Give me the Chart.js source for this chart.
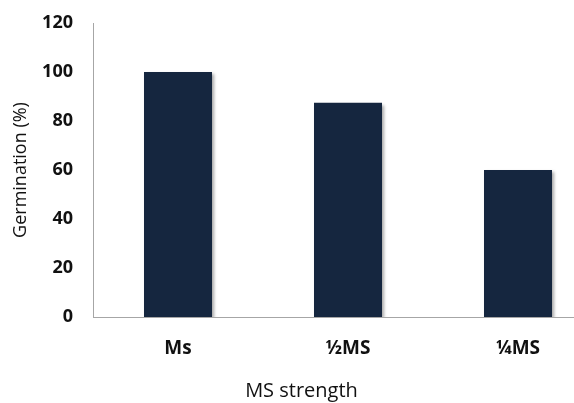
<!DOCTYPE html>
<html>
<head>
<meta charset="utf-8">
<script src="https://cdn.jsdelivr.net/npm/chart.js@4"></script>
<style>
  html, body { margin: 0; padding: 0; background: #fff; overflow: hidden; }
  #wrap { width: 574px; height: 403px; overflow: hidden; }
</style>
</head>
<body>
<div id="wrap"><canvas id="chart" width="610" height="403"></canvas></div>
<script>
// data
const categories = ["Ms", "½MS", "¼MS"];
const germination = [100, 87.5, 60];
const yTicks = [0, 20, 40, 60, 80, 100, 120];

const FONT = "'Open Sans', 'Liberation Sans', sans-serif";
const AXIS_GREY = "#a6a6a6";

// soft shadow under the bars, like the office-style original
const barShadow = {
    id: "barShadow",
    beforeDatasetsDraw(chart) {
        const c = chart.ctx;
        c.save();
        c.shadowColor = "rgba(0,0,0,0.35)";
        c.shadowBlur = 3;
        c.shadowOffsetX = 2;
        c.shadowOffsetY = 2;
    },
    afterDatasetsDraw(chart) {
        chart.ctx.restore();
    }
};

new Chart(document.getElementById("chart"), {
    type: "bar",
    data: {
        labels: categories,
        datasets: [{
            data: germination,
            backgroundColor: "#15263f",
            borderWidth: 0,
            barPercentage: 0.4,
            categoryPercentage: 1
        }]
    },
    options: {
        responsive: false,
        animation: false,
        layout: { padding: { left: 0, right: 7, top: 23, bottom: 0 } },
        plugins: {
            legend: { display: false },
            tooltip: { enabled: false },
            title: {
                display: true,
                position: "bottom",
                text: "MS strength",
                color: "#111",
                font: { family: FONT, size: 20, weight: "normal" },
                padding: { top: 0, bottom: 0 }
            }
        },
        scales: {
            x: {
                grid: { display: false, drawTicks: false },
                border: { color: AXIS_GREY, width: 1 },
                ticks: {
                    color: "#111",
                    font: { family: FONT, size: 19, weight: "bold" },
                    padding: 20
                },
                afterFit: s => { s.height = 62; }
            },
            y: {
                min: 0,
                max: 120,
                afterBuildTicks: s => { s.ticks = yTicks.map(v => ({ value: v })); },
                grid: { display: false, drawTicks: false },
                border: { color: AXIS_GREY, width: 1 },
                ticks: {
                    color: "#111",
                    font: { family: FONT, size: 18, weight: "bold" },
                    padding: 20
                },
                title: {
                    display: true,
                    text: "Germination (%)",
                    color: "#111",
                    font: { family: FONT, size: 18, weight: "normal" },
                    padding: { top: 10, bottom: 0 }
                },
                afterFit: s => {
                    s.width = 93;
                    s.paddingTop = 0;
                    s.paddingBottom = 0;
                }
            }
        }
    },
    plugins: [barShadow]
});
</script>
</body>
</html>
